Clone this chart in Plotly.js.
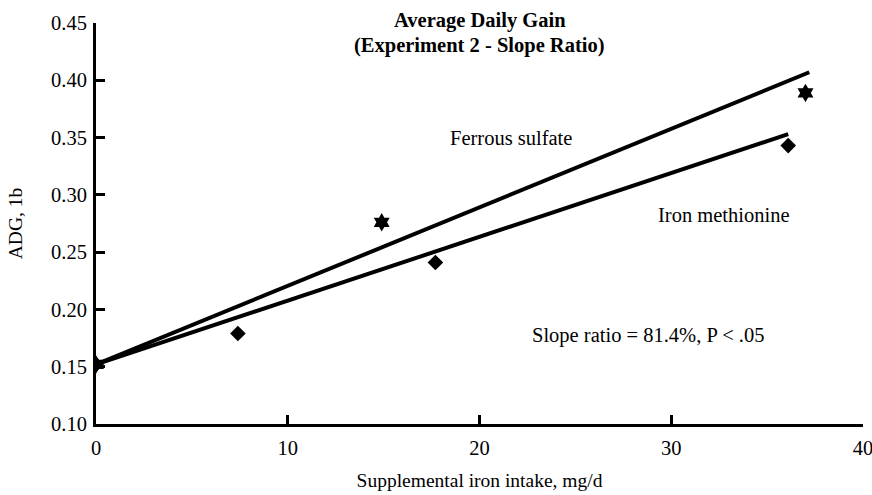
<!DOCTYPE html>
<html>
<head>
<meta charset="utf-8">
<script src="https://cdn.plot.ly/plotly-3.0.1.min.js"></script>
<style>html,body{margin:0;padding:0;background:#fff;}#chart{width:872px;height:495px;}</style>
</head>
<body>
<div id="chart"></div>
<script>
// Observed data points
const fsX = [0, 14.9, 37.0];
const fsY = [0.152, 0.276, 0.389];
const imX = [0, 7.4, 17.7, 36.1];
const imY = [0.152, 0.179, 0.241, 0.343];
// Regression lines (endpoints)
const fsLineX = [0, 37.2];
const fsLineY = [0.152, 0.407];
const imLineX = [0, 36.1];
const imLineY = [0.152, 0.353];
// Tick labels
const xTicks = [0, 10, 20, 30, 40];
const yTicks = [0.10, 0.15, 0.20, 0.25, 0.30, 0.35, 0.40, 0.45];
const yTickText = ['0.10', '0.15', '0.20', '0.25', '0.30', '0.35', '0.40', '0.45'];
// Texts
const titleLines = ['Average Daily Gain', '(Experiment 2 - Slope Ratio)'];
const xTitle = 'Supplemental iron intake, mg/d';
const yTitle = 'ADG, 1b';
const labels = [
  {text: 'Ferrous sulfate', x: 21.65, y: 0.350},
  {text: 'Iron methionine', x: 32.76, y: 0.282},
  {text: 'Slope ratio = 81.4%, P < .05', x: 28.8, y: 0.177}
];

const FONT = 'Liberation Serif, Times New Roman, serif';

const traces = [
  {x: fsLineX, y: fsLineY, mode: 'lines', line: {color: '#000', width: 4}, showlegend: false, hoverinfo: 'skip'},
  {x: imLineX, y: imLineY, mode: 'lines', line: {color: '#000', width: 4}, showlegend: false, hoverinfo: 'skip'},
  {x: fsX, y: fsY, mode: 'markers', name: 'Ferrous sulfate', marker: {symbol: 'hexagram', size: 14, color: '#000'}, showlegend: false},
  {x: imX, y: imY, mode: 'markers', name: 'Iron methionine', marker: {symbol: 'diamond', size: 12, color: '#000'}, showlegend: false}
];

const titleY = [1.005, 0.945];
const annotations = labels.map(l => ({
  text: l.text, x: l.x, y: l.y, xref: 'x', yref: 'y',
  showarrow: false, xanchor: 'center', yanchor: 'middle',
  font: {family: FONT, size: 20.5, color: '#000'}
})).concat(titleLines.map((t, i) => ({
  text: '<b>' + t + '</b>', x: 0.5, y: titleY[i], xref: 'paper', yref: 'paper',
  showarrow: false, xanchor: 'center', yanchor: 'middle',
  font: {family: FONT, size: 20.5, color: '#000'}
})));

const layout = {
  width: 872, height: 495,
  margin: {l: 96, r: 9, t: 23, b: 71, pad: 0},
  paper_bgcolor: '#fff', plot_bgcolor: '#fff',
  font: {family: FONT, size: 20, color: '#000'},
  xaxis: {
    range: [0, 40], tickvals: xTicks, ticktext: xTicks.map(String),
    showline: true, linecolor: '#000', linewidth: 3, mirror: false,
    ticks: 'inside', ticklen: 9, tickwidth: 3, tickcolor: '#000',
    showgrid: false, zeroline: false,
    tickfont: {family: FONT, size: 20.5, color: '#000'},
    ticklabelstandoff: 3, ticklabeloverflow: 'allow',
    title: {text: xTitle, font: {family: FONT, size: 19.5, color: '#000'}, standoff: 16}
  },
  yaxis: {
    range: [0.10, 0.45], tickvals: yTicks, ticktext: yTickText,
    showline: true, linecolor: '#000', linewidth: 3, mirror: false,
    ticks: 'inside', ticklen: 9, tickwidth: 3, tickcolor: '#000',
    showgrid: false, zeroline: false,
    tickfont: {family: FONT, size: 20.5, color: '#000'},
    ticklabelstandoff: 2,
    title: {text: yTitle, font: {family: FONT, size: 19.5, color: '#000'}, standoff: 24}
  },
  annotations: annotations
};

Plotly.newPlot('chart', traces, layout, {displayModeBar: false, staticPlot: true});
</script>
</body>
</html>
